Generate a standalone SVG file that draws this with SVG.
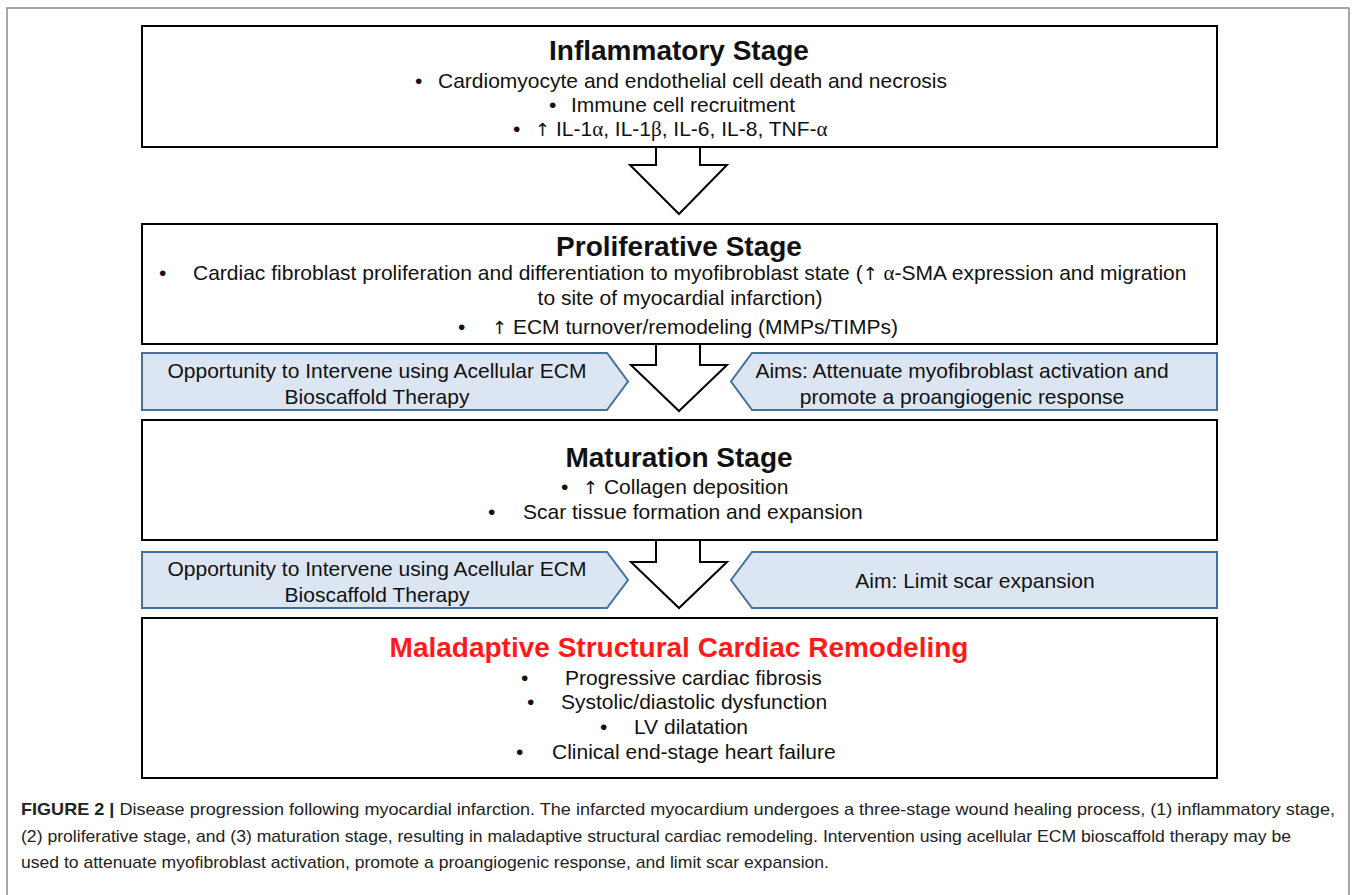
<svg xmlns="http://www.w3.org/2000/svg" width="1357" height="895" viewBox="0 0 1357 895">
<style>
.frame{fill:none;stroke:#8a8a8a;stroke-width:1.5}
.box{fill:#fff;stroke:#000;stroke-width:2}
.arr{fill:#fff;stroke:#000;stroke-width:2;stroke-linejoin:miter}
.ban{fill:#dce6f2;stroke:#41719c;stroke-width:2}
text{font-family:"Liberation Sans",Arial,sans-serif;fill:#111}
.t{font-size:28px;font-weight:bold;text-anchor:middle}
.b{font-size:21px}
.c{font-size:21px;text-anchor:middle}
.g{font-family:"Liberation Serif",serif}
.u{font-family:"DejaVu Sans",sans-serif;font-size:18px}
.cap{font-size:17px;fill:#222}
</style>
<rect class="frame" x="7" y="8" width="1342" height="900"/>
<g id="connectors">
<path class="arr" d="M656,147 V165 H630 L679,214 L727,165 H700 V147"/>
<path class="arr" d="M656,344 V365 H631 L679,411 L727,365 H700 V344"/>
<path class="arr" d="M656,540 V562 H631 L679,608 L727,562 H700 V540"/>
</g>
<g id="inflammatory">
<rect class="box" x="142" y="26" width="1075" height="121"/>
<text class="t" x="679" y="60">Inflammatory Stage</text>
<text class="b" x="415" y="88">•</text><text class="b" x="438" y="88">Cardiomyocyte and endothelial cell death and necrosis</text>
<text class="b" x="549" y="112">•</text><text class="b" x="571" y="112">Immune cell recruitment</text>
<text class="b" x="513" y="136">•</text><text class="b" x="535" y="136"><tspan class="u">↑</tspan> IL-1<tspan class="g">α</tspan>, IL-1<tspan class="g">β</tspan>, IL-6, IL-8, TNF-<tspan class="g">α</tspan></text>
</g>
<g id="proliferative">
<rect class="box" x="142" y="224" width="1075" height="120"/>
<text class="t" x="679" y="256">Proliferative Stage</text>
<text class="b" x="159" y="280">•</text><text class="b" x="193" y="280">Cardiac fibroblast proliferation and differentiation to myofibroblast state (<tspan class="u">↑</tspan> <tspan class="g">α</tspan>-SMA expression and migration</text>
<text class="c" x="680" y="305">to site of myocardial infarction)</text>
<text class="b" x="458" y="334">•</text><text class="b" x="492" y="334"><tspan class="u">↑</tspan> ECM turnover/remodeling (MMPs/TIMPs)</text>
</g>
<g id="opportunity1">
<path class="ban" d="M142,353 H607 L628,381.5 L607,410 H142 Z"/>
<text class="c" x="377" y="378">Opportunity to Intervene using Acellular ECM</text>
<text class="c" x="377" y="404">Bioscaffold Therapy</text>
</g>
<g id="aims1">
<path class="ban" d="M1217,353 H752 L731,381.5 L752,410 H1217 Z"/>
<text class="c" x="962" y="378">Aims: Attenuate myofibroblast activation and</text>
<text class="c" x="962" y="404">promote a proangiogenic response</text>
</g>
<g id="maturation">
<rect class="box" x="142" y="420" width="1075" height="120"/>
<text class="t" x="679" y="467">Maturation Stage</text>
<text class="b" x="561" y="494">•</text><text class="b" x="583" y="494"><tspan class="u">↑</tspan> Collagen deposition</text>
<text class="b" x="488" y="519">•</text><text class="b" x="523" y="519">Scar tissue formation and expansion</text>
</g>
<g id="opportunity2">
<path class="ban" d="M142,552 H607 L628,580 L607,608 H142 Z"/>
<text class="c" x="377" y="576">Opportunity to Intervene using Acellular ECM</text>
<text class="c" x="377" y="602">Bioscaffold Therapy</text>
</g>
<g id="aim2">
<path class="ban" d="M1217,552 H752 L731,580 L752,608 H1217 Z"/>
<text class="c" x="975" y="588">Aim: Limit scar expansion</text>
</g>
<g id="maladaptive">
<rect class="box" x="142" y="618" width="1075" height="160"/>
<text class="t" x="679" y="657" style="fill:#ff1a1a">Maladaptive Structural Cardiac Remodeling</text>
<text class="b" x="521" y="685">•</text><text class="b" x="565" y="685">Progressive cardiac fibrosis</text>
<text class="b" x="527" y="709">•</text><text class="b" x="561" y="709">Systolic/diastolic dysfunction</text>
<text class="b" x="600" y="734">•</text><text class="b" x="634" y="734">LV dilatation</text>
<text class="b" x="516" y="759">•</text><text class="b" x="552" y="759">Clinical end-stage heart failure</text>
</g>
<g id="caption">
<text class="cap" x="21" y="815" textLength="1314" lengthAdjust="spacingAndGlyphs"><tspan font-weight="bold">FIGURE 2 |</tspan> Disease progression following myocardial infarction. The infarcted myocardium undergoes a three-stage wound healing process, (1) inflammatory stage,</text>
<text class="cap" x="21" y="842" textLength="1270" lengthAdjust="spacingAndGlyphs">(2) proliferative stage, and (3) maturation stage, resulting in maladaptive structural cardiac remodeling. Intervention using acellular ECM bioscaffold therapy may be</text>
<text class="cap" x="21" y="868" textLength="808" lengthAdjust="spacingAndGlyphs">used to attenuate myofibroblast activation, promote a proangiogenic response, and limit scar expansion.</text>
</g>
</svg>
